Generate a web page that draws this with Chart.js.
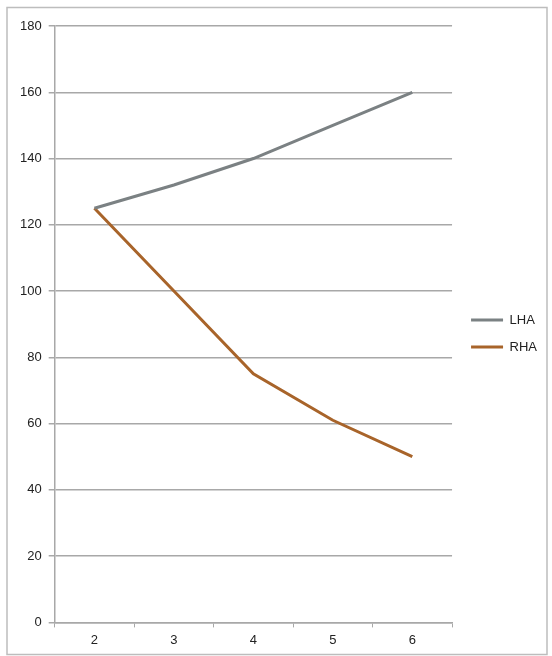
<!DOCTYPE html>
<html>
<head>
<meta charset="utf-8">
<script src="https://cdn.jsdelivr.net/npm/chart.js@4/dist/chart.umd.min.js"></script>
<style>
  html, body { margin: 0; padding: 0; background: #fff; }
  #wrap { position: relative; width: 552px; height: 656px; }
</style>
</head>
<body>
<div id="wrap"><canvas id="c" width="552" height="656"></canvas></div>
<script>
const categories = ['2', '3', '4', '5', '6'];
const lhaValues = [125, 132, 140, 150, 160];
const rhaValues = [125, 100, 75, 61, 50];
const seriesNames = ['LHA', 'RHA'];

// outer frame around the whole chart
const framePlugin = {
  id: 'frame',
  beforeDraw(chart) {
    const ctx = chart.ctx;
    ctx.save();
    ctx.strokeStyle = '#bdbdbd';
    ctx.lineWidth = 1.5;
    ctx.strokeRect(7, 7.5, 540, 647);
    ctx.restore();
  }
};

// nudge the legend block slightly up and to the right
const legendShift = {
  id: 'legendShift',
  afterLayout(chart) {
    const lg = chart.legend;
    if (lg) {
      lg.top -= 6; lg.bottom -= 6;
      lg.left += 5; lg.right += 5;
    }
  }
};

const tickFont = { family: 'Liberation Sans, Arial, sans-serif', size: 13 };

new Chart(document.getElementById('c'), {
  type: 'line',
  data: {
    labels: categories,
    datasets: [
      {
        label: seriesNames[0],
        data: lhaValues,
        borderColor: '#7b8183',
        backgroundColor: '#7b8183',
        borderWidth: 3,
        pointRadius: 0,
        tension: 0
      },
      {
        label: seriesNames[1],
        data: rhaValues,
        borderColor: '#a8642a',
        backgroundColor: '#a8642a',
        borderWidth: 3,
        pointRadius: 0,
        tension: 0
      }
    ]
  },
  options: {
    responsive: false,
    animation: false,
    layout: { padding: { left: 13, top: 26, right: 10, bottom: 3 } },
    plugins: {
      legend: {
        position: 'right',
        align: 'center',
        labels: {
          usePointStyle: true,
          pointStyle: 'line',
          pointStyleWidth: 32,
          boxWidth: 32,
          padding: 14,
          color: '#222',
          font: tickFont
        }
      },
      tooltip: { enabled: false }
    },
    scales: {
      x: {
        offset: true,
        grid: {
          offset: true,
          drawOnChartArea: false,
          drawTicks: true,
          tickLength: 5,
          color: '#a8a8a8'
        },
        border: { color: '#a8a8a8', width: 1.5 },
        ticks: { color: '#222', font: tickFont, padding: 5 }
      },
      y: {
        min: 0,
        max: 180,
        ticks: { stepSize: 20, color: '#222', font: tickFont, padding: 7 },
        grid: {
          color: '#a8a8a8',
          lineWidth: 1.5,
          drawTicks: true,
          tickLength: 6
        },
        border: { color: '#a8a8a8', width: 1.5 }
      }
    }
  },
  plugins: [framePlugin, legendShift]
});
</script>
</body>
</html>
